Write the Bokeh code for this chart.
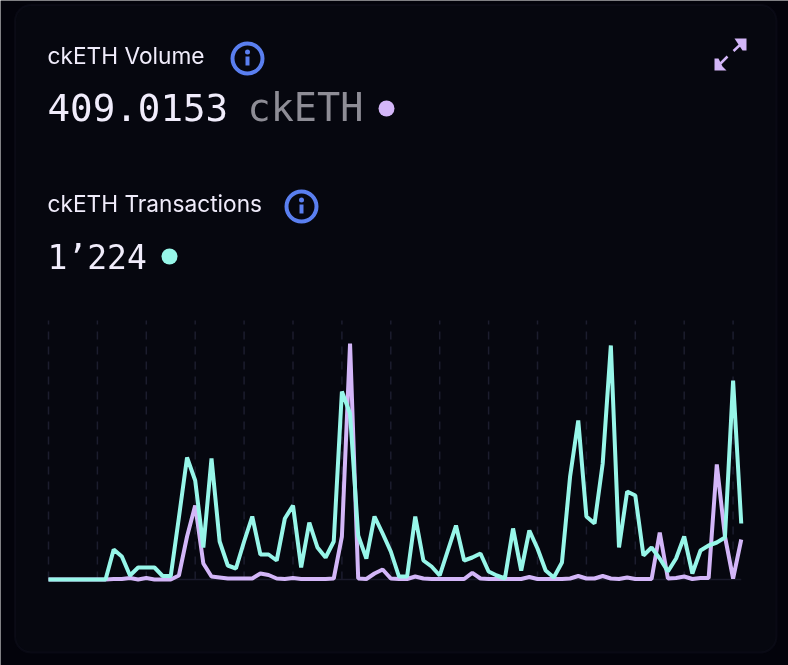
from bokeh.plotting import figure
from bokeh.models import Range1d, Label, BoxAnnotation
from bokeh.embed import file_html
from bokeh.resources import INLINE

transactions = [0,0,0,0,0,0,0,0,30,23,4,12,12,12,3.5,3.5,62,122,99,32,121,38,14,11,38,63,25,25,19,61,74,12,57,32,22,38,188,166,44,21,63,46,28,3,3,63,19,13,4,29,54,19,22,26,8,4,1,51,9,49,31,9,2,17,103,159,63,56,116,234,32,88,84,24,32,21,8,21,43,6,29,34,37,42,199,56]
volume = [0,0,0,0,0,0,0,0,0.5,0.5,1.5,0,1.5,0,0,0,4,43,74,16,3,2,1,1,1,1,6,4.5,1,0.5,1.5,0.5,0.5,0.5,0.5,1,43,236,1,0.5,6,10,1,0.5,0.5,3,1,0.5,0.5,0.5,0.5,0.5,6.7,1,0.5,0.5,0.5,0.5,0.5,2.5,0.5,0.5,0.5,0.5,1,3.5,1,1,3.5,1,0.5,2,0.5,0.5,0.5,47,1,1.5,3,0.5,1.5,1.5,115,43,1,40]
days = list(range(len(transactions)))
grid_days = days[::6]
grid_top = 259

BG = "#03030b"
CARD = "#06070f"
EDGE = "#181829"
TEXT = "#f0ecfb"
MUTED = "#8e8d96"
PURPLE = "#d3b6f8"
TEAL = "#97f6e9"
BLUE = "#5a7ff0"

p = figure(width=788, height=665, output_backend="svg", toolbar_location=None,
           x_range=Range1d(0, 788), y_range=Range1d(665, 0),
           min_border=0, outline_line_color=None, background_fill_color=BG,
           border_fill_color=BG)
p.axis.visible = False
p.grid.visible = False
p.styles = {"position": "fixed", "left": "0", "top": "0"}

S = 8.15
p.extra_x_ranges = {"day": Range1d(-48 / S, (788 - 48) / S)}
p.extra_y_ranges = {"val": Range1d(-(665 - 579), 579)}

p.add_layout(BoxAnnotation(left=14.5, right=776, top=4.5, bottom=652,
                           fill_color=CARD, fill_alpha=1, line_color=EDGE,
                           line_width=2, border_radius=16, level="underlay"))

p.segment(x0=grid_days, x1=grid_days, y0=[0] * len(grid_days), y1=[grid_top] * len(grid_days),
          x_range_name="day", y_range_name="val", line_color="#1c1d2e", line_width=1.5, line_dash="8 7")
p.line(x=[days[0], days[-1]], y=[0, 0], x_range_name="day", y_range_name="val",
       line_color="#1a1a2b", line_width=1.5)
p.line(x=days, y=volume, x_range_name="day", y_range_name="val", line_color=PURPLE,
       line_width=4, line_join="bevel")
p.line(x=days, y=transactions, x_range_name="day", y_range_name="val", line_color=TEAL,
       line_width=4, line_join="bevel")


def text(x, y, s, size, color=TEXT, font="Inter", style="normal"):
    p.add_layout(Label(x=x, y=y, text=s, text_font=font, text_font_size=f"{size}px",
                       text_color=color, text_baseline="alphabetic", text_font_style=style))


text(47, 55, "ckETH Volume", 22.7)
text(47, 203, "ckETH Transactions", 22.7)
text(47, 107, "409.0153", 37.5, font="DejaVu Sans Mono")
text(247, 107, "ckETH", 38.5, MUTED, font="DejaVu Sans Mono")
text(47, 257, "1’224", 33, font="DejaVu Sans Mono")

p.scatter(x=[386], y=[108], size=16, color=PURPLE, line_color=None)
p.scatter(x=[169], y=[256], size=16, color=TEAL, line_color=None)

for cx, cy in [(247, 58), (301, 206)]:
    p.scatter(x=[cx], y=[cy], size=30, fill_color=None, line_color=BLUE, line_width=4)
    p.scatter(x=[cx], y=[cy - 6.5], size=5, color=BLUE, line_color=None)
    p.line(x=[cx, cx], y=[cy - 2, cy + 7], line_color=BLUE, line_width=4)

p.patch(x=[734, 746, 746, 742, 738], y=[38, 38, 50, 50, 44], color=PURPLE, line_color=None)
p.line(x=[733, 740], y=[50.5, 44], line_color=PURPLE, line_width=2.5)
p.patch(x=[714, 726, 722, 718, 714], y=[70, 70, 66, 58, 58], color=PURPLE, line_color=None)
p.line(x=[727, 720], y=[56, 63], line_color=PURPLE, line_width=2.5)

open("out.html", "w").write(file_html(p, INLINE))
